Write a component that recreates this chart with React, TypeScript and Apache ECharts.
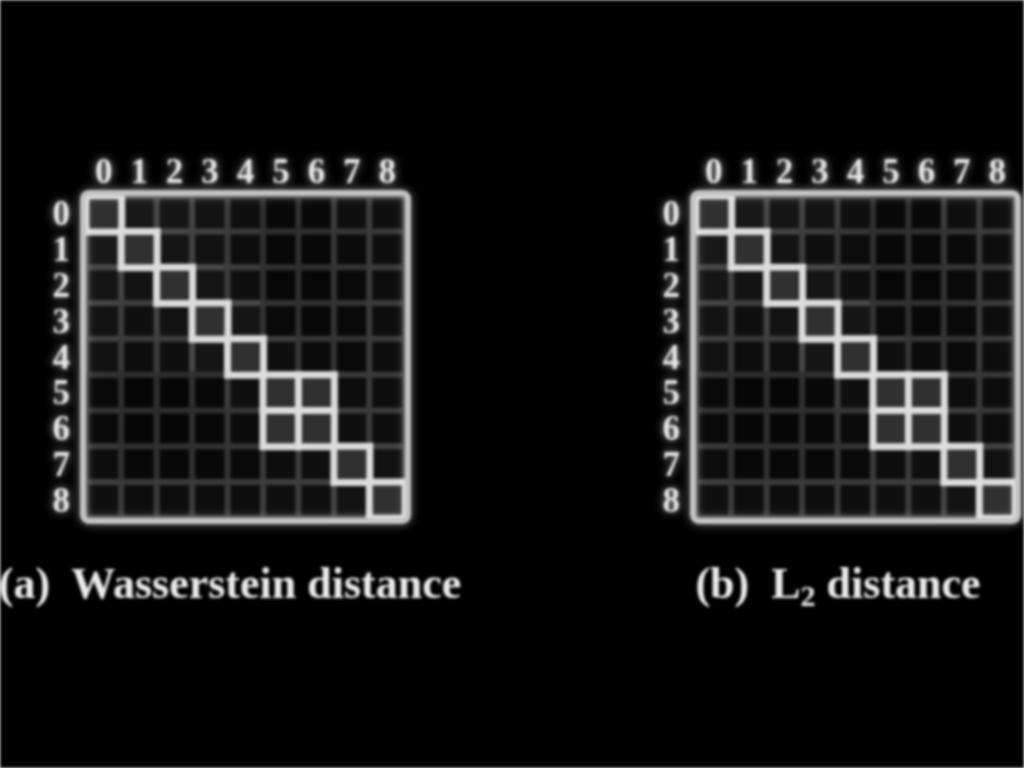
import { useEffect, useRef } from "react";
import * as echarts from "echarts";

const classLabels = ["0", "1", "2", "3", "4", "5", "6", "7", "8"];

// similarity / brightness of each cell (1 = highlighted cell)
const wassersteinSim: number[][] = [
  [1, 0.5, 0.45, 0.4, 0.3, 0.12, 0.12, 0.3, 0.3],
  [0.5, 1, 0.45, 0.35, 0.25, 0.1, 0.1, 0.2, 0.25],
  [0.45, 0.4, 1, 0.45, 0.3, 0.1, 0.1, 0.15, 0.25],
  [0.4, 0.3, 0.4, 1, 0.45, 0.15, 0.1, 0.15, 0.25],
  [0.35, 0.25, 0.3, 0.45, 1, 0.3, 0.2, 0.15, 0.25],
  [0.15, 0.08, 0.08, 0.12, 0.3, 1, 1, 0.25, 0.25],
  [0.15, 0.08, 0.08, 0.1, 0.2, 1, 1, 0.3, 0.25],
  [0.25, 0.12, 0.12, 0.12, 0.15, 0.25, 0.3, 1, 0.35],
  [0.3, 0.25, 0.25, 0.25, 0.25, 0.3, 0.3, 0.4, 1],
];

const l2Sim: number[][] = [
  [1, 0.5, 0.45, 0.4, 0.3, 0.12, 0.12, 0.3, 0.3],
  [0.5, 1, 0.4, 0.3, 0.22, 0.1, 0.1, 0.18, 0.25],
  [0.45, 0.38, 1, 0.45, 0.3, 0.1, 0.1, 0.15, 0.25],
  [0.4, 0.3, 0.4, 1, 0.45, 0.15, 0.1, 0.15, 0.25],
  [0.35, 0.22, 0.28, 0.45, 1, 0.3, 0.2, 0.15, 0.25],
  [0.15, 0.08, 0.08, 0.12, 0.3, 1, 1, 0.25, 0.22],
  [0.15, 0.08, 0.08, 0.1, 0.2, 1, 1, 0.3, 0.22],
  [0.25, 0.12, 0.12, 0.12, 0.15, 0.25, 0.3, 1, 0.35],
  [0.3, 0.25, 0.25, 0.25, 0.25, 0.3, 0.3, 0.4, 1],
];

const panelTitleA = "{n|(a)  Wasserstein distance}";
const panelTitleB = "{n|(b)  L}{sub|2}{n| distance}";

const GRID_TOP = 196;
const GRID_W = 319;
const GRID_H = 322;
const LEFT_A = 86;
const LEFT_B = 696;

function grayHex(g: number) {
  const v = Math.max(0, Math.min(255, Math.round(g)));
  return `rgb(${v},${v},${v})`;
}

function buildSeries(matrix: number[][], idx: number) {
  const base: any[] = [];
  const hi: any[] = [];
  matrix.forEach((row, r) => {
    row.forEach((v, c) => {
      if (v >= 1) {
        hi.push({
          value: [c, r, v],
          itemStyle: { borderColor: "#dcdcdc", borderWidth: 7 },
        });
      } else {
        base.push({
          value: [c, r, v],
          itemStyle: {
            borderColor: grayHex(40 + 70 * v),
            borderWidth: 6,
          },
        });
      }
    });
  });
  return [
    {
      type: "heatmap",
      xAxisIndex: idx,
      yAxisIndex: idx,
      data: base,
      z: 2,
      emphasis: { disabled: true },
    },
    {
      type: "heatmap",
      xAxisIndex: idx,
      yAxisIndex: idx,
      data: hi,
      z: 3,
      emphasis: { disabled: true },
    },
  ];
}

function axisPair(idx: number) {
  const labelStyle = {
    color: "#e6e6e6",
    fontFamily: "Liberation Serif",
    fontWeight: "bold" as const,
    fontSize: 35,
    interval: 0,
    textShadowColor: "rgba(255,255,255,0.6)",
    textShadowBlur: 8,
  };
  return {
    x: {
      type: "category",
      gridIndex: idx,
      data: classLabels,
      position: "top",
      axisLine: { show: false },
      axisTick: { show: false },
      splitLine: { show: false },
      axisLabel: { ...labelStyle, margin: 7 },
    },
    y: {
      type: "category",
      gridIndex: idx,
      data: classLabels,
      inverse: true,
      axisLine: { show: false },
      axisTick: { show: false },
      splitLine: { show: false },
      axisLabel: { ...labelStyle, margin: 16 },
    },
  };
}

function frame(left: number) {
  return {
    type: "rect",
    z: 100,
    shape: { x: left - 3, y: GRID_TOP - 3, width: GRID_W + 6, height: GRID_H + 6, r: 6 },
    style: {
      fill: "none",
      stroke: "#c4c4c4",
      lineWidth: 6,
      shadowBlur: 8,
      shadowColor: "rgba(255,255,255,0.5)",
    },
  };
}

function titleText(text: string, x: number) {
  return {
    type: "text",
    z: 100,
    x,
    y: 583,
    style: {
      text,
      align: "center",
      verticalAlign: "middle",
      fill: "#ececec",
      shadowBlur: 12,
      shadowColor: "rgba(255,255,255,0.6)",
      rich: {
        n: {
          fontFamily: "Liberation Serif",
          fontWeight: "bold",
          fontSize: 44,
          color: "#ececec",
          lineHeight: 46,
        },
        sub: {
          fontFamily: "Liberation Serif",
          fontWeight: "bold",
          fontSize: 30,
          color: "#ececec",
          lineHeight: 54,
          verticalAlign: "bottom",
        },
      },
    },
  };
}

export default function App() {
  const ref = useRef<HTMLDivElement>(null);
  useEffect(() => {
    if (!ref.current) return;
    const chart = echarts.init(ref.current, undefined, { renderer: "svg" });
    const a = axisPair(0);
    const b = axisPair(1);
    chart.setOption({
      animation: false,
      backgroundColor: "#000000",
      grid: [
        { left: LEFT_A, top: GRID_TOP, width: GRID_W, height: GRID_H, containLabel: false },
        { left: LEFT_B, top: GRID_TOP, width: GRID_W, height: GRID_H, containLabel: false },
      ],
      xAxis: [a.x, b.x],
      yAxis: [a.y, b.y],
      visualMap: [
        {
          type: "continuous",
          show: false,
          seriesIndex: [0, 2],
          min: 0,
          max: 1,
          inRange: { color: ["#030303", "#2c2c2c"] },
        },
        {
          type: "continuous",
          show: false,
          seriesIndex: [1, 3],
          min: 0,
          max: 1,
          inRange: { color: ["#303030", "#303030"] },
        },
      ],
      series: [...buildSeries(wassersteinSim, 0), ...buildSeries(l2Sim, 1)],
      graphic: [
        frame(LEFT_A),
        frame(LEFT_B),
        titleText(panelTitleA, 230),
        titleText(panelTitleB, 838),
      ],
    });
    return () => chart.dispose();
  }, []);
  return (
    <div
      ref={ref}
      style={{
        position: "fixed",
        left: 0,
        top: 0,
        width: 1024,
        height: 768,
        background: "#000",
        filter: "blur(1.5px)",
      }}
    />
  );
}
